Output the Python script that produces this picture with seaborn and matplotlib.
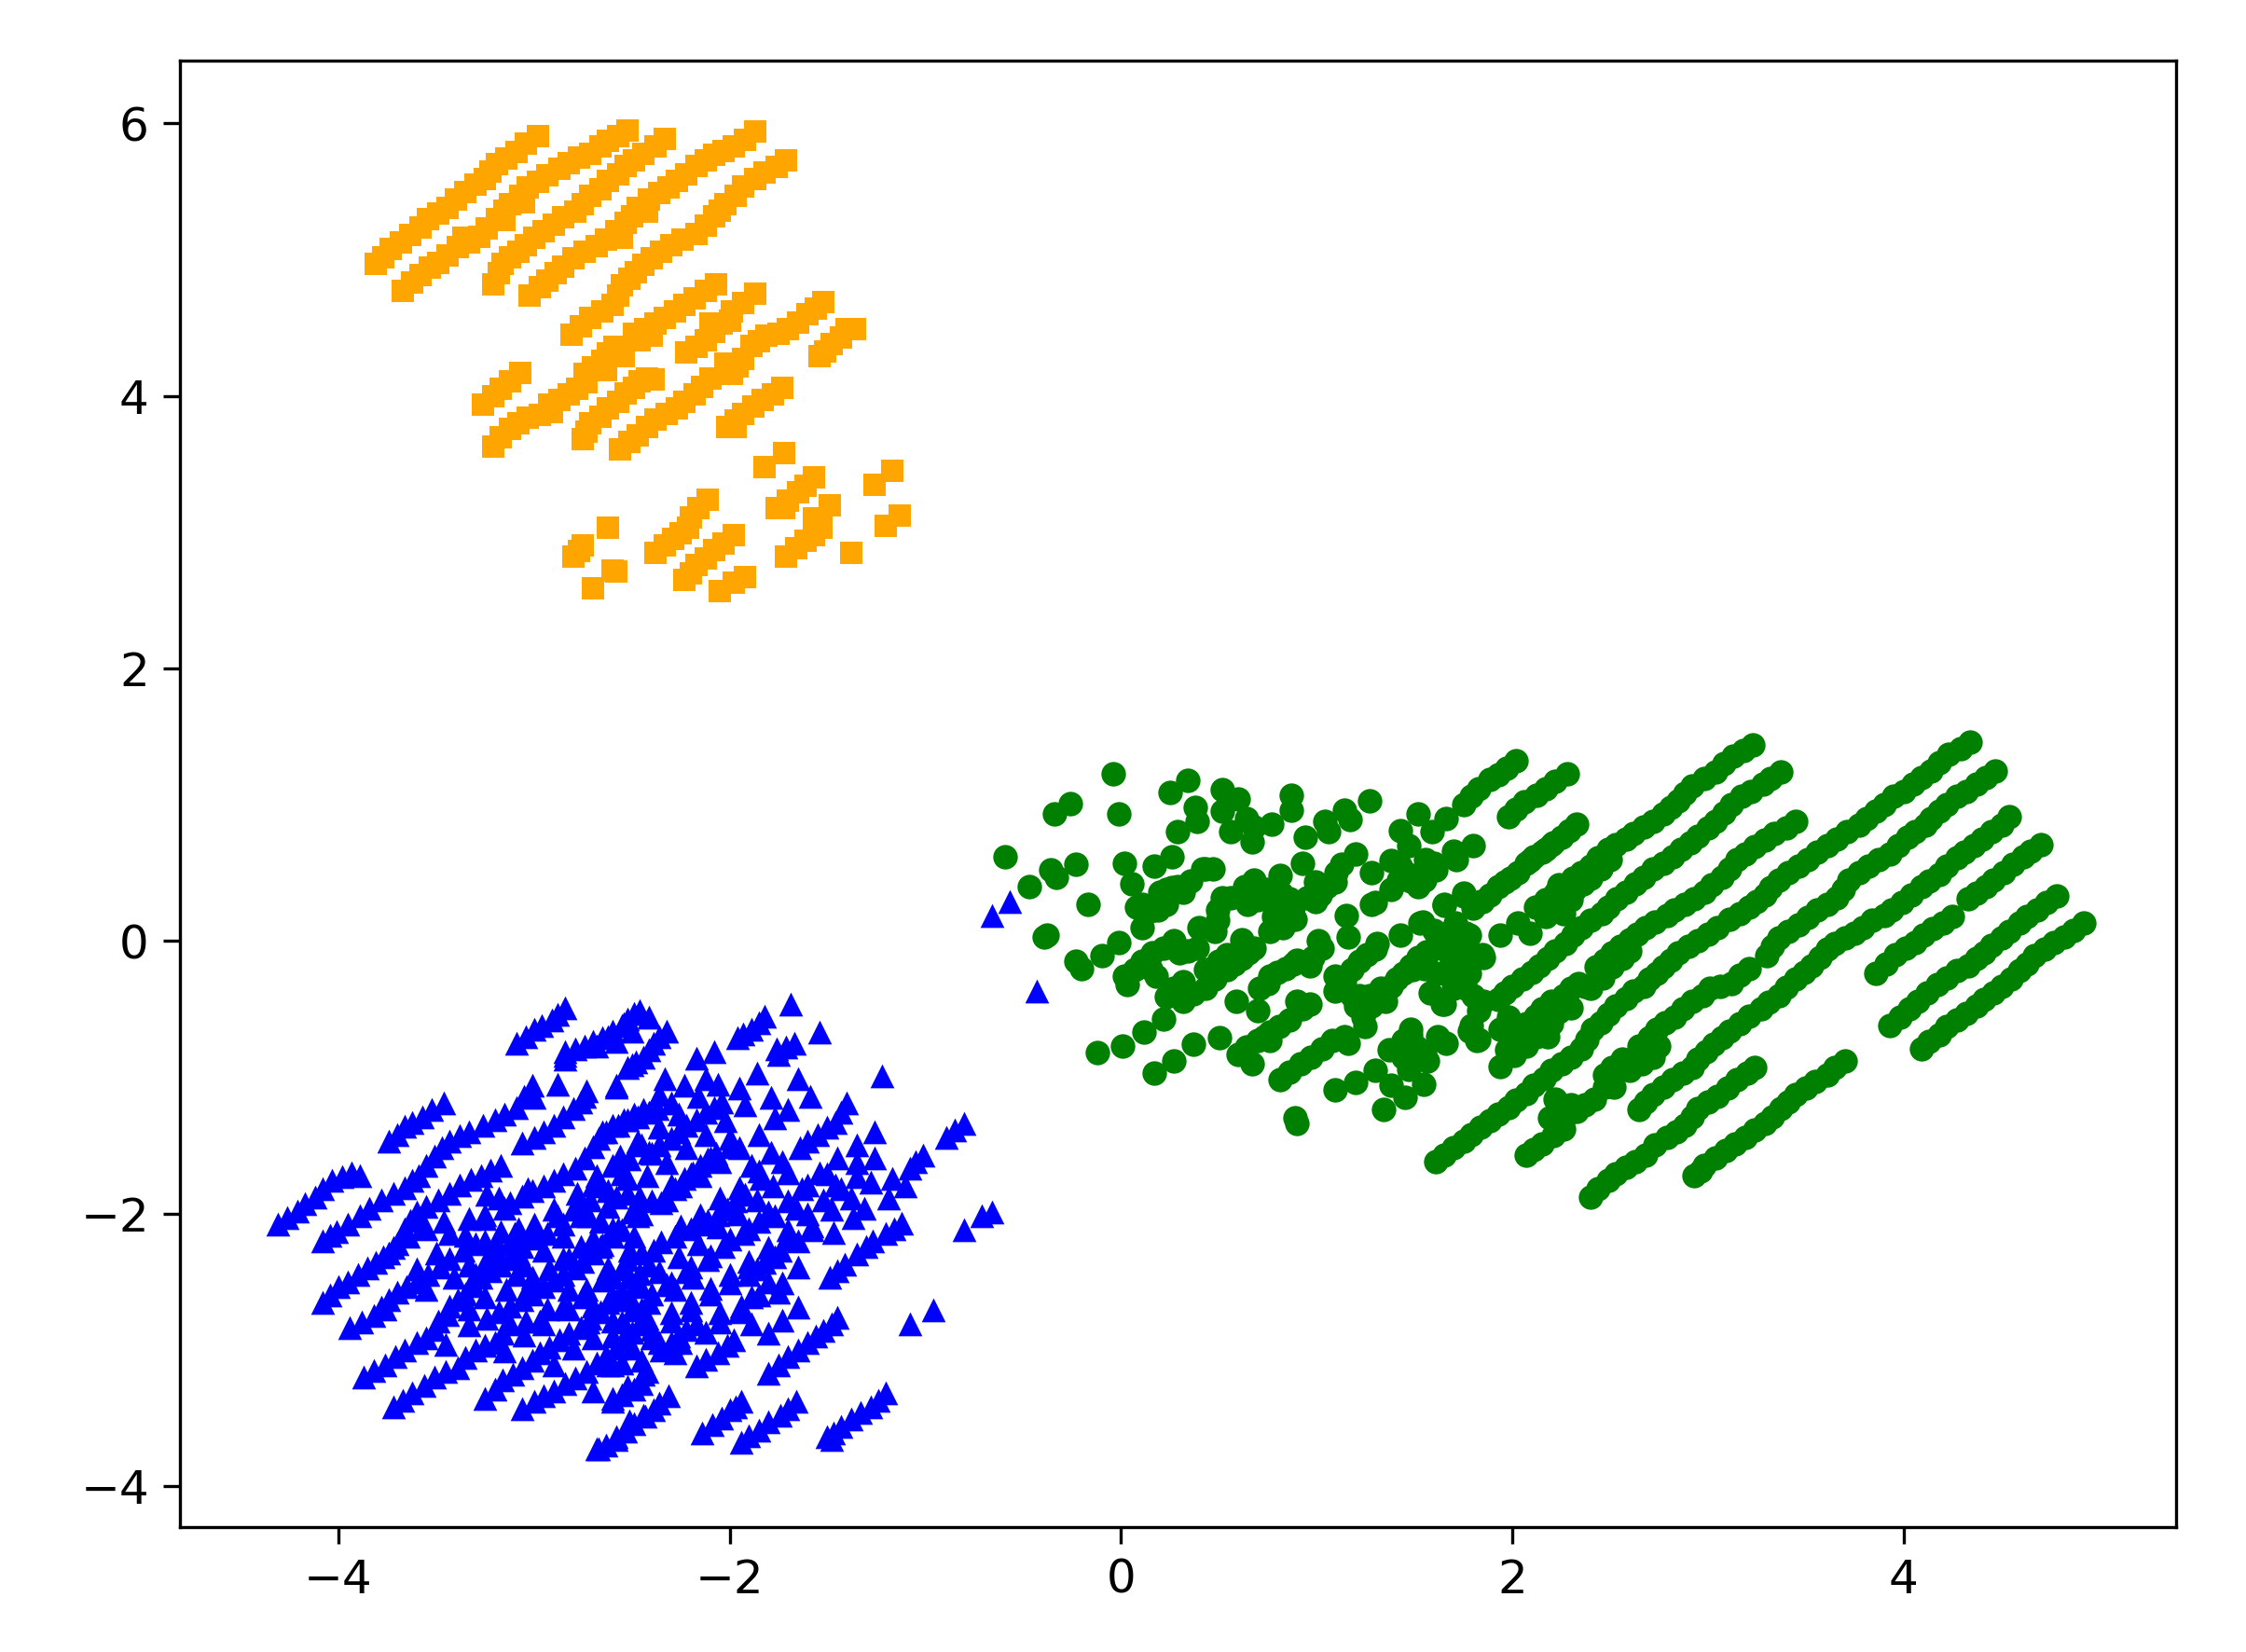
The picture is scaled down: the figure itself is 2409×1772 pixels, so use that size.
import numpy as np
import pandas as pd
import seaborn as sns
from matplotlib import pyplot as plt

# values, one row per visible strand
orange_points = [
    (-3.81, 4.97), (-3.73, 5.08), (-3.63, 5.18), (-3.54, 5.30), (-3.44, 5.38), (-3.35, 5.50), (-3.25, 5.59), (-3.19, 5.70), (-3.09, 5.79), (-2.98, 5.91),
    (-3.67, 4.77), (-3.58, 4.89), (-3.49, 4.98), (-3.39, 5.09), (-3.28, 5.17), (-3.19, 5.30), (-3.12, 5.41), (-3.03, 5.53), (-2.93, 5.62), (-2.82, 5.71), (-2.71, 5.78), (-2.62, 5.87), (-2.52, 5.95),
    (-3.21, 4.82), (-3.16, 4.97), (-3.08, 5.06), (-3.00, 5.16), (-2.90, 5.26), (-2.79, 5.35), (-2.71, 5.47), (-2.62, 5.58), (-2.53, 5.69), (-2.44, 5.78), (-2.33, 5.89),
    (-3.02, 4.74), (-2.93, 4.85), (-2.85, 4.95), (-2.74, 5.06), (-2.63, 5.15), (-2.53, 5.27), (-2.47, 5.38), (-2.36, 5.49), (-2.27, 5.58), (-2.17, 5.69), (-2.08, 5.77), (-1.98, 5.83), (-1.87, 5.94),
    (-2.81, 4.45), (-2.71, 4.57), (-2.60, 4.67), (-2.55, 4.81), (-2.48, 4.91), (-2.40, 5.01), (-2.30, 5.11), (-2.17, 5.19), (-2.08, 5.32), (-2.02, 5.41), (-1.93, 5.54), (-1.82, 5.64), (-1.71, 5.73),
    (-2.49, 4.46), (-2.38, 4.53), (-2.28, 4.62), (-2.18, 4.72), (-2.07, 4.82), (-2.46, 4.41),
    (-2.22, 4.32), (-2.12, 4.41), (-2.10, 4.53), (-2.04, 4.53), (-1.99, 4.62), (-1.87, 4.75),
    (-1.99, 4.16), (-2.02, 4.24), (-1.93, 4.27), (-1.89, 4.37), (-1.81, 4.44), (-1.70, 4.49), (-1.60, 4.60), (-1.52, 4.69),
    (-2.10, 4.13), (-2.18, 4.01), (-2.27, 3.91), (-2.38, 3.83), (-2.47, 3.71), (-2.56, 3.61),
    (-1.54, 4.29), (-1.48, 4.38), (-1.40, 4.49), (-1.36, 4.49),
    (-2.59, 4.36), (-2.65, 4.26), (-2.74, 4.16), (-2.73, 4.10), (-2.82, 4.01), (-2.92, 3.94), (-2.91, 3.88), (-3.03, 3.84), (-3.12, 3.76), (-3.21, 3.63), (-2.54, 4.29), (-2.63, 4.19),
    (-3.26, 3.94), (-3.17, 4.05), (-3.07, 4.17),
    (-2.75, 3.68), (-2.71, 3.80), (-2.62, 3.91), (-2.53, 4.02), (-2.46, 4.11), (-2.39, 4.12),
    (-1.73, 4.06), (-1.83, 3.97), (-1.93, 3.87), (-2.01, 3.77), (-1.97, 3.77),
    (-1.72, 3.58), (-1.82, 3.48),
    (-1.57, 3.40), (-1.65, 3.29), (-1.76, 3.18), (-1.72, 3.18),
    (-1.17, 3.45), (-1.26, 3.35),
    (-1.49, 3.20), (-1.57, 3.10), (-1.53, 3.03), (-1.61, 2.94), (-1.71, 2.82),
    (-1.38, 2.85), (-1.13, 3.12), (-1.20, 3.05),
    (-2.11, 3.24), (-2.20, 3.11), (-2.21, 3.03), (-2.29, 2.95), (-2.38, 2.85),
    (-1.98, 2.98), (-2.08, 2.87), (-2.17, 2.76), (-2.23, 2.65),
    (-1.92, 2.67), (-2.05, 2.57), (-1.98, 2.63),
    (-2.62, 3.03), (-2.75, 2.90), (-2.80, 2.82), (-2.58, 2.71), (-2.70, 2.59),
]

# more orange marks that sit inside the solid strands
orange_dense = [
    (-3.77, 5.02), (-3.68, 5.13), (-3.58, 5.24), (-3.49, 5.34), (-3.40, 5.44), (-3.30, 5.55), (-3.22, 5.65), (-3.14, 5.74), (-3.04, 5.85),
    (-3.62, 4.83), (-3.53, 4.94), (-3.44, 5.03), (-3.33, 5.13), (-3.24, 5.23), (-3.15, 5.36), (-3.07, 5.47), (-2.98, 5.57), (-2.87, 5.67), (-2.77, 5.75), (-2.66, 5.83), (-2.57, 5.91), (-3.36, 5.16), (-3.15, 5.29), (-3.05, 5.42),
    (-3.18, 4.90), (-3.12, 5.02), (-3.04, 5.11), (-2.95, 5.21), (-2.85, 5.31), (-2.75, 5.41), (-2.66, 5.52), (-2.57, 5.63), (-2.49, 5.73), (-2.38, 5.83),
    (-2.97, 4.80), (-2.89, 4.90), (-2.80, 5.01), (-2.68, 5.10), (-2.58, 5.21), (-2.50, 5.32), (-2.41, 5.44), (-2.31, 5.53), (-2.22, 5.63), (-2.12, 5.73), (-2.03, 5.80), (-1.92, 5.88), (-2.55, 5.16), (-2.42, 5.35),
    (-2.76, 4.51), (-2.65, 4.62), (-2.57, 4.74), (-2.51, 4.86), (-2.44, 4.96), (-2.35, 5.06), (-2.24, 5.15), (-2.12, 5.25), (-2.05, 5.36), (-1.97, 5.47), (-1.87, 5.59), (-1.76, 5.68),
    (-2.43, 4.49), (-2.33, 4.57), (-2.23, 4.67), (-2.12, 4.77), (-2.40, 4.44),
    (-2.17, 4.36), (-2.08, 4.47), (-2.00, 4.55), (-1.93, 4.68),
    (-1.96, 4.22), (-1.85, 4.40), (-1.75, 4.46), (-1.65, 4.54), (-1.56, 4.64), (-2.14, 4.07), (-2.23, 3.96), (-2.32, 3.87), (-2.42, 3.77), (-2.51, 3.66),
    (-1.51, 4.33), (-1.43, 4.43),
    (-2.62, 4.31), (-2.70, 4.21), (-2.78, 4.05), (-2.87, 3.97), (-2.97, 3.86), (-3.08, 3.80), (-3.17, 3.70),
    (-3.21, 4.00), (-3.12, 4.11),
    (-2.73, 3.74), (-2.66, 3.85), (-2.57, 3.96), (-2.49, 4.06), (-2.42, 4.13),
    (-1.78, 4.01), (-1.88, 3.92), (-1.97, 3.82),
    (-1.61, 3.34), (-1.70, 3.23), (-2.16, 3.18), (-2.25, 2.99), (-2.33, 2.90), (-2.03, 2.92), (-2.12, 2.81), (-2.20, 2.70), (-1.55, 3.07), (-1.57, 2.98), (-1.66, 2.88), (-2.77, 2.86), (-2.60, 2.72),
]

green_points = [
    (-0.04, 1.23), (-0.26, 1.01), (-0.34, 0.93), (-0.01, 0.93), (0.34, 1.18), (0.25, 1.09), (0.52, 1.11), (0.60, 1.04), (0.38, 0.98), (0.52, 0.95),
    (0.39, 0.88), (0.29, 0.80), (0.56, 0.80), (0.64, 0.90), (0.77, 0.86), (0.87, 1.07), (0.87, 0.96), (0.67, 0.73), (0.68, 0.84), (0.94, 0.76),
    (1.04, 0.88), (1.06, 0.80), (1.14, 0.96), (1.17, 0.89), (1.27, 1.03), (1.52, 0.93), (1.66, 0.90), (1.59, 0.80), (1.43, 0.81),
    (-0.59, 0.62), (-0.47, 0.40), (-0.36, 0.52), (-0.33, 0.47), (-0.23, 0.56), (-0.17, 0.27), (0.02, 0.57), (0.17, 0.55), (0.26, 0.62), (0.055, 0.42),
    (-0.38, 0.04), (-0.39, 0.03), (0.23, 0.38), (0.29, 0.40), (0.355, 0.44), (0.32, 0.36), (0.42, 0.53), (0.47, 0.53), (0.23, 0.34),
    (0.11, 0.27), (0.19, 0.23), (0.23, 0.27), (0.11, 0.10), (-0.01, -0.01), (-0.095, -0.11), (-0.23, -0.15), (-0.20, -0.20),
    (0.52, 0.32), (0.495, 0.23), (0.495, 0.15), (0.40, 0.10), (0.48, 0.07),
    (0.68, 0.45), (0.63, 0.40), (0.645, 0.27), (0.74, 0.38), (0.815, 0.48), (0.86, 0.31), (0.79, 0.26), (0.89, 0.16), (0.76, 0.07), (0.93, 0.57),
    (0.995, 0.29), (0.995, 0.43), (1.095, 0.43), (1.13, 0.56), (1.20, 0.64), (1.28, 0.50),
    (1.38, 0.59), (1.38, 0.38), (1.47, 0.70), (1.555, 0.60), (1.47, 0.49), (1.52, 0.40), (1.61, 0.52), (1.715, 0.60), (1.80, 0.70),
    (1.28, 0.27), (1.15, 0.19), (1.16, 0.03), (1.43, 0.04), (1.54, 0.14), (1.65, 0.26), (1.75, 0.33), (1.845, 0.29),
    (0.03, -0.32), (0.07, -0.21), (0.15, -0.20), (0.16, -0.09), (0.27, 0.00), (0.30, -0.09), (0.39, -0.05),
    (0.18, -0.26), (0.32, -0.30), (0.23, -0.41), (0.32, -0.44), (0.43, -0.35), (0.43, -0.21), (0.54, -0.21), (0.54, -0.10), (0.62, 0.01), (0.62, -0.13), (0.68, -0.05),
    (0.22, -0.57), (0.12, -0.67), (0.01, -0.77), (-0.12, -0.82), (0.37, -0.76), (0.27, -0.88), (0.17, -0.97), (0.505, -0.71), (0.59, -0.44), (0.70, -0.51),
    (0.71, -0.35), (0.76, -0.26), (0.84, -0.20), (0.90, -0.14), (0.965, -0.18), (1.03, -0.05), (1.01, 0.00),
    (0.90, -0.44), (0.965, -0.46), (0.86, -0.58), (0.76, -0.67), (0.70, -0.73), (0.60, -0.83), (0.67, -0.90), (0.76, -0.73),
    (0.815, -1.02), (0.92, -0.90), (1.03, -0.79), (1.14, -0.70), (1.16, -0.75),
    (1.095, -0.26), (1.095, -0.37), (1.18, -0.21), (1.255, -0.10), (1.31, -0.02), (1.18, -0.40), (1.27, -0.40), (1.35, -0.44), (1.235, -0.56), (1.245, -0.63), (1.38, -0.33), (1.44, -0.24), (1.52, -0.12), (1.61, -0.05),
    (1.69, 0.08), (1.78, 0.04), (1.69, -0.14), (1.845, -0.10), (1.61, -0.24), (1.75, -0.33), (1.64, -0.46), (1.83, -0.51), (1.82, -0.73), (1.79, -0.62),
    (0.89, -1.30), (0.90, -1.34), (1.34, -1.24), (1.45, -1.15), (1.38, -1.06), (1.545, -1.05), (1.47, -0.94), (1.565, -0.88), (1.66, -0.75), (1.48, -0.69), (1.51, -0.78), (1.37, -0.80), (1.44, -0.85),
    (1.095, -1.09), (1.20, -1.04), (1.30, -0.95),
    (1.75, 1.00), (1.83, 1.12), (1.885, 1.185), (1.93, 1.22), (2.02, 1.32),
    (1.98, 0.91), (2.06, 1.02), (2.125, 1.07), (2.17, 1.12), (2.28, 1.23),
    (2.33, 0.86), (2.25, 0.76), (2.20, 0.71), (2.17, 0.67), (2.11, 0.62), (2.07, 0.57), (2.03, 0.50), (1.99, 0.46), (1.93, 0.40), (1.885, 0.34), (1.80, 0.24), (1.75, 0.35), (1.65, 0.27),
    (3.23, 1.44), (3.13, 1.36), (3.04, 1.24), (2.92, 1.14), (2.85, 1.03), (2.77, 0.93), (2.67, 0.84), (2.58, 0.75), (2.49, 0.67), (2.40, 0.55), (2.31, 0.46), (2.22, 0.35), (2.12, 0.25),
    (2.40, 0.46), (2.28, 0.32), (2.17, 0.18), (2.35, 0.50), (2.24, 0.41), (2.32, 0.38), (2.22, 0.25),
    (3.37, 1.24), (3.28, 1.15), (3.17, 1.06), (3.08, 0.94), (3.00, 0.83), (2.91, 0.72), (2.82, 0.62), (2.72, 0.53), (2.63, 0.42), (2.535, 0.31), (2.455, 0.20), (2.35, 0.10), (2.27, -0.02), (2.18, -0.13), (2.10, -0.23), (2.00, -0.33), (1.93, -0.43),
    (3.45, 0.88), (3.34, 0.79), (3.24, 0.69), (3.15, 0.60), (3.07, 0.47),
    (2.98, 0.36), (2.88, 0.27), (2.79, 0.19), (2.68, 0.10), (2.60, 0.01), (2.51, -0.09), (2.43, -0.19), (2.60, -0.07), (2.51, -0.19), (2.40, -0.35), (2.34, -0.31), (2.26, -0.40), (2.30, -0.49), (2.20, -0.44), (2.15, -0.50), (2.20, -0.61), (2.07, -0.61), (2.125, -0.70),
    (1.98, -0.56), (1.99, -0.75), (2.01, -0.84), (1.94, -0.92), (2.07, -0.77), (1.94, -0.65), (1.83, -0.72), (1.78, -0.66),
    (1.53, 0.13), (1.65, 0.02), (1.76, 0.06), (1.555, -0.12), (1.69, -0.14), (1.85, -0.12), (1.78, -0.24), (1.65, -0.24), (1.49, -0.21), (1.76, -0.35), (1.65, -0.46), (1.85, -0.44), (1.71, 0.13), (1.94, 0.04), (2.03, 0.13), (2.09, 0.06),
    (4.34, 1.46), (4.23, 1.37), (4.14, 1.25), (4.05, 1.15), (3.95, 1.06), (3.86, 0.95), (3.77, 0.85), (3.66, 0.75), (3.56, 0.65), (3.46, 0.55), (3.36, 0.45), (3.29, 0.34), (3.21, 0.25), (3.11, 0.16), (3.00, 0.05), (2.90, -0.04), (2.81, -0.14), (2.74, -0.24), (2.67, -0.33), (2.58, -0.42), (2.49, -0.54), (2.41, -0.65), (2.35, -0.79), (2.25, -0.90), (2.16, -1.01), (2.07, -1.12), (1.98, -1.22), (1.885, -1.32), (1.79, -1.42), (1.70, -1.52), (1.61, -1.62),
    (4.47, 1.25), (4.37, 1.15), (4.27, 1.06), (4.18, 0.95), (4.11, 0.85), (4.02, 0.76), (3.93, 0.64), (3.82, 0.55), (3.72, 0.45), (3.66, 0.32), (3.56, 0.23), (3.46, 0.12), (3.36, 0.02), (3.30, -0.11),
    (4.54, 0.91), (4.45, 0.80), (4.36, 0.70), (4.27, 0.61), (4.18, 0.49), (4.09, 0.40), (3.99, 0.28), (3.90, 0.19), (3.79, 0.10), (3.70, 0.02), (3.61, -0.06), (3.53, -0.18), (3.45, -0.28), (3.36, -0.40), (3.27, -0.50), (3.16, -0.61), (3.07, -0.71), (2.99, -0.81), (2.92, -0.93), (2.82, -1.02), (2.72, -1.13), (2.65, -1.24),
    (3.21, -0.20), (3.12, -0.31), (3.01, -0.35), (2.92, -0.44), (2.83, -0.56), (2.74, -0.65), (2.65, -0.77), (2.75, -0.77), (2.72, -0.85), (2.60, -0.95), (2.56, -0.87), (2.47, -0.98), (2.52, -1.07), (2.42, -1.16), (2.33, -1.25), (2.22, -1.16), (2.19, -1.30), (2.26, -1.38), (2.15, -1.49), (2.07, -1.57),
    (3.24, -0.93), (3.15, -1.02), (3.05, -1.14), (2.95, -1.23), (2.88, -1.35), (2.79, -1.44), (2.68, -1.57), (2.58, -1.66), (2.49, -1.76), (2.40, -1.88),
    (3.70, -0.88), (3.61, -0.98), (3.50, -1.08), (3.41, -1.18), (3.33, -1.29), (3.24, -1.39), (3.14, -1.49), (3.04, -1.59), (2.93, -1.72),
    (4.70, 0.71), (4.61, 0.62), (4.51, 0.50), (4.42, 0.40), (4.33, 0.31),
    (4.25, 0.18), (4.15, 0.09), (4.06, -0.01), (3.96, -0.10), (3.86, -0.24),
    (4.78, 0.33), (4.68, 0.23), (4.59, 0.13), (4.50, 0.02), (4.41, -0.09), (4.33, -0.18), (4.22, -0.27), (4.12, -0.38), (4.03, -0.50), (3.93, -0.62),
    (4.92, 0.13), (4.82, 0.03), (4.72, -0.06), (4.63, -0.17), (4.55, -0.28), (4.46, -0.38), (4.37, -0.48), (4.27, -0.58), (4.18, -0.69), (4.09, -0.79),
]

# more green marks that sit inside the solid strands
green_dense = [
    (1.79, 1.06), (1.97, 1.27), (2.02, 0.97), (2.22, 1.17),
    (2.29, 0.81), (2.21, 0.72), (2.15, 0.65), (2.09, 0.59), (1.96, 0.43), (1.84, 0.29),
    (3.18, 1.40), (3.08, 1.30), (2.98, 1.19), (2.88, 1.08), (2.81, 0.98), (2.72, 0.88), (2.62, 0.79), (2.53, 0.71), (2.44, 0.61), (2.36, 0.50), (2.27, 0.40), (2.17, 0.30), (2.45, 0.53), (2.36, 0.42), (2.27, 0.29), (2.50, 0.60), (2.30, 0.30), (2.18, 0.23), (2.26, 0.20),
    (3.32, 1.19), (3.22, 1.10), (3.12, 1.00), (3.04, 0.88), (2.95, 0.77), (2.86, 0.67), (2.77, 0.57), (2.67, 0.47), (2.58, 0.36), (2.49, 0.25), (2.40, 0.15), (2.31, 0.04), (2.22, -0.07), (2.14, -0.18), (2.05, -0.28), (1.96, -0.38),
    (3.40, 0.83), (3.29, 0.74), (3.19, 0.64), (3.11, 0.53), (3.02, 0.41), (2.93, 0.31), (2.83, 0.23), (2.73, 0.14), (2.64, 0.05), (2.55, -0.04), (2.47, -0.14), (2.56, -0.13), (2.46, -0.27), (2.37, -0.33), (2.30, -0.35), (2.24, -0.52), (2.12, -0.55), (2.18, -0.70), (2.05, -0.70), (2.00, -0.66), (1.97, -0.80), (2.03, -0.68), (2.12, -0.62), (2.16, -0.58),
    (4.29, 1.41), (4.18, 1.31), (4.09, 1.20), (4.00, 1.10), (3.90, 1.00), (3.81, 0.90), (3.71, 0.80), (3.61, 0.70), (3.51, 0.60), (3.41, 0.50), (3.32, 0.39), (3.25, 0.29), (3.16, 0.20), (3.05, 0.10), (2.95, 0.00), (2.85, -0.09), (2.77, -0.19), (2.70, -0.28), (2.62, -0.37), (2.53, -0.48), (2.45, -0.60), (2.38, -0.72), (2.30, -0.85), (2.20, -0.95), (2.11, -1.06), (2.02, -1.17), (1.93, -1.27), (1.84, -1.37), (1.75, -1.47), (1.65, -1.57),
    (4.42, 1.20), (4.32, 1.10), (4.22, 1.00), (4.14, 0.90), (4.06, 0.80), (3.97, 0.70), (3.87, 0.60), (3.77, 0.50), (3.69, 0.38), (3.61, 0.27), (3.51, 0.17), (3.41, 0.07), (3.33, -0.04),
    (4.50, 0.85), (4.40, 0.75), (4.31, 0.65), (4.22, 0.55), (4.13, 0.44), (4.04, 0.34), (3.94, 0.23), (3.84, 0.15), (3.75, 0.06), (3.65, -0.02), (3.57, -0.12), (3.49, -0.23), (3.40, -0.34), (3.31, -0.45), (3.21, -0.55), (3.11, -0.66), (3.03, -0.76), (2.95, -0.87), (2.87, -0.97), (2.77, -1.07), (2.68, -1.18),
    (3.16, -0.25), (3.06, -0.33), (2.97, -0.40), (2.87, -0.50), (2.78, -0.60), (2.70, -0.71), (2.69, -0.81), (2.66, -0.90), (2.51, -0.93), (2.47, -1.07), (2.37, -1.20), (2.28, -1.27), (2.21, -1.43), (2.11, -1.53), (2.30, -1.20), (2.24, -1.24),
    (3.20, -0.97), (3.10, -1.08), (3.00, -1.18), (2.92, -1.29), (2.84, -1.40), (2.73, -1.50), (2.63, -1.62), (2.53, -1.71), (2.44, -1.82),
    (3.65, -0.93), (3.55, -1.03), (3.45, -1.13), (3.37, -1.23), (3.29, -1.34), (3.19, -1.44), (3.09, -1.54), (2.98, -1.65), (2.96, -1.69),
    (4.65, 0.66), (4.56, 0.56), (4.46, 0.45), (4.37, 0.35), (4.20, 0.13), (4.10, 0.04), (4.01, -0.05), (3.91, -0.17),
    (4.73, 0.28), (4.63, 0.18), (4.54, 0.07), (4.45, -0.03), (4.37, -0.13), (4.27, -0.22), (4.17, -0.32), (4.07, -0.44), (3.98, -0.56),
    (4.87, 0.08), (4.77, -0.01), (4.67, -0.11), (4.59, -0.22), (4.50, -0.33), (4.41, -0.43), (4.32, -0.53), (4.22, -0.63), (4.13, -0.74),
    (0.26, 0.39), (0.20, 0.36), (0.43, 0.53), (0.08, 0.25), (0.15, 0.22), (0.02, -0.26), (0.11, -0.15), (0.22, -0.05), (0.34, -0.07), (0.27, -0.35), (0.37, -0.39), (0.48, -0.28), (0.58, -0.17), (0.65, -0.09), (0.50, -0.15),
    (0.75, -0.31), (0.80, -0.23), (0.88, -0.17), (0.98, -0.12), (0.93, -0.50), (0.81, -0.63), (0.73, -0.70), (0.64, -0.78), (0.86, -0.96), (0.97, -0.85), (1.08, -0.73),
    (1.14, -0.30), (1.22, -0.15), (1.30, -0.06), (1.22, -0.40), (1.32, -0.42), (1.28, -0.48), (1.20, -0.48), (1.33, -0.35), (1.41, -0.28), (1.48, -0.18), (1.56, -0.08), (1.72, -0.05), (1.78, -0.12), (1.62, 0.01), (1.60, 0.08), (1.72, -0.20), (1.55, -0.20), (1.70, -0.35), (1.58, -0.38), (1.80, -0.40),
    (1.48, -0.65), (1.44, -0.73), (1.55, -0.82), (1.62, -0.70), (0.56, 0.32), (0.70, 0.30), (0.62, 0.34), (0.82, 0.35), (0.88, 0.25), (0.78, 0.18), (0.83, 0.10), (1.05, 0.40), (1.02, 0.34), (0.95, 0.32), (1.10, 0.50), (1.43, 0.55), (1.48, 0.44), (1.60, 0.57), (1.42, 0.45), (1.55, 0.45), (1.70, 0.66), (1.30, 0.28),
]

blue_points = [
    (-4.31, -2.08), (-4.21, -1.98), (-4.12, -1.88), (-4.03, -1.76), (-3.93, -1.70), (-3.89, -1.72),
    (-3.74, -1.47), (-3.66, -1.36), (-3.57, -1.29), (-3.46, -1.19),
    (-4.08, -2.20), (-4.01, -2.13), (-3.89, -2.02), (-3.78, -1.90), (-3.66, -1.81), (-3.59, -1.72), (-3.51, -1.58), (-3.43, -1.47), (-3.33, -1.40), (-3.20, -1.31), (-3.09, -1.22), (-3.01, -1.06), (-3.00, -1.15),
    (-3.09, -0.75), (-3.00, -0.65), (-2.91, -0.58), (-2.84, -0.49),
    (-2.84, -0.87), (-2.84, -0.81), (-2.74, -0.77), (-2.65, -0.71), (-2.55, -0.62), (-2.49, -0.53), (-2.88, -1.05), (-2.58, -1.06), (-2.50, -0.91),
    (-3.06, -1.48), (-2.95, -1.40), (-2.85, -1.29), (-2.76, -1.18), (-2.73, -1.10),
    (-4.08, -2.65), (-4.00, -2.54), (-3.90, -2.45), (-3.81, -2.36), (-3.74, -2.29),
    (-3.94, -2.84), (-3.82, -2.75), (-3.74, -2.63), (-3.65, -2.54), (-3.54, -2.45), (-3.43, -2.33), (-3.30, -2.22), (-3.19, -2.22), (-3.06, -2.24),
    (-3.66, -2.11), (-3.60, -1.99), (-3.49, -1.90), (-3.38, -1.79), (-3.27, -1.72), (-3.17, -1.65),
    (-3.24, -1.86), (-3.12, -1.92), (-3.01, -1.83), (-2.90, -1.76), (-2.79, -1.67), (-2.70, -1.51), (-2.65, -1.40), (-2.54, -1.31), (-2.44, -1.24),
    (-3.87, -3.20), (-3.76, -3.11), (-3.66, -3.00), (-3.55, -2.91),
    (-3.72, -3.42), (-3.62, -3.32), (-3.51, -3.20), (-3.39, -3.13), (-3.30, -3.00), (-3.20, -2.95), (-3.12, -2.81), (-3.24, -2.77), (-3.12, -2.68), (-3.01, -2.59), (-2.90, -2.49), (-2.79, -2.40), (-2.70, -2.29), (-2.60, -2.17),
    (-3.25, -3.36), (-3.16, -3.22), (-3.06, -3.13), (-2.97, -3.02), (-2.87, -2.93), (-2.76, -2.84),
    (-3.06, -3.43), (-2.95, -3.34), (-2.84, -3.25), (-2.73, -3.16), (-2.63, -3.04), (-2.54, -2.93), (-2.46, -2.81),
    (-3.49, -2.79), (-3.43, -2.68), (-3.35, -2.59), (-3.27, -2.47), (-3.17, -2.38), (-3.08, -2.29),
    (-2.70, -2.68), (-2.60, -2.61), (-2.51, -2.47), (-2.85, -2.33), (-2.76, -2.24),
    (-2.80, -1.97), (-2.71, -1.90), (-2.62, -1.83), (-2.52, -1.74), (-2.93, -2.15), (-2.85, -2.08), (-2.76, -2.02),
    (-2.66, -2.24), (-2.57, -2.11), (-2.47, -2.02), (-2.60, -3.36), (-2.52, -3.27), (-2.44, -3.18),
    (-2.68, -3.73), (-2.58, -3.64), (-2.51, -3.52), (-2.44, -3.48),
    (-3.43, -2.15), (-3.17, -2.13), (-3.08, -2.11), (-3.01, -2.18), (-2.82, -2.56), (-2.73, -2.56), (-2.93, -2.70), (-2.82, -2.70), (-3.04, -2.79), (-2.97, -2.79), (-2.71, -2.77), (-2.62, -2.65), (-2.51, -2.61), (-2.62, -2.40), (-2.51, -2.27), (-2.66, -2.06),
    (-3.33, -2.38), (-3.41, -2.47), (-3.24, -2.34), (-3.09, -2.45), (-3.01, -2.47), (-3.25, -2.61), (-3.14, -2.56), (-3.33, -2.70), (-3.55, -2.56), (-3.76, -2.70),
    (-2.60, -1.65), (-2.51, -1.60), (-2.47, -1.47), (-2.70, -1.79), (-2.58, -1.88), (-2.46, -1.88), (-2.49, -2.17),
    (-3.46, -2.06), (-3.55, -2.11), (-3.25, -2.01), (-3.33, -2.04), (-3.70, -2.22),
    (-2.46, -0.51), (-2.54, -0.61), (-2.62, -0.70), (-2.68, -0.77), (-2.32, -0.66), (-2.39, -0.75), (-2.44, -0.85), (-2.52, -0.93), (-2.58, -1.07),
    (-2.17, -0.86), (-2.08, -0.81), (-2.12, -1.01),
    (-1.69, -0.46), (-1.82, -0.55), (-1.89, -0.65), (-1.96, -0.71), (-1.54, -0.67), (-1.67, -0.75), (-1.75, -0.83),
    (-1.86, -0.97), (-1.95, -1.08), (-1.65, -1.01), (-1.59, -1.14), (-1.79, -1.15), (-1.70, -1.24), (-1.77, -1.30), (-1.22, -0.99),
    (-2.33, -1.01), (-2.23, -1.06), (-2.36, -1.13), (-2.30, -1.19), (-2.41, -1.26), (-2.52, -1.31), (-2.63, -1.40),
    (-2.04, -1.18), (-2.12, -1.26), (-2.22, -1.35), (-2.30, -1.45), (-2.41, -1.55),
    (-2.00, -1.45), (-2.07, -1.56), (-2.15, -1.65), (-2.23, -1.74), (-2.32, -1.90),
    (-1.89, -1.65), (-1.84, -1.74), (-1.92, -1.86), (-2.01, -1.97), (-2.11, -2.05), (-2.20, -2.11), (-2.28, -2.17), (-1.79, -1.55), (-1.73, -1.62),
    (-1.40, -1.19), (-1.46, -1.33), (-1.55, -1.42), (-1.64, -1.52),
    (-1.26, -1.40), (-1.35, -1.50), (-1.26, -1.59), (-1.35, -1.63), (-1.45, -1.59), (-1.54, -1.70), (-1.46, -1.79), (-1.63, -1.82), (-1.66, -1.96),
    (-1.77, -2.02), (-1.85, -2.06), (-1.93, -2.15), (-2.03, -2.24),
    (-0.80, -1.34), (-0.89, -1.44), (-1.01, -1.57), (-1.08, -1.67), (-1.17, -1.74), (-1.10, -1.80), (-1.19, -1.89),
    (-1.31, -1.96), (-1.37, -2.03), (-1.12, -2.07), (-1.20, -2.15), (-1.30, -2.24), (-1.41, -2.37), (-1.49, -2.47),
    (-1.58, -2.12), (-1.47, -2.14), (-1.65, -2.20), (-1.74, -2.27), (-1.82, -2.36), (-1.90, -2.45), (-1.73, -2.51), (-1.80, -2.50), (-1.65, -2.39),
    (-1.89, -2.61), (-0.66, -1.99), (-0.71, -2.02), (-0.80, -2.12),
    (-1.65, -2.69), (-1.73, -2.78), (-1.89, -2.81), (-1.80, -2.88), (-2.05, -2.73), (-1.94, -2.68),
    (-1.45, -2.76), (-1.52, -2.86), (-1.60, -2.95), (-1.70, -3.05), (-1.80, -3.17), (-0.96, -2.71), (-1.08, -2.81),
    (-2.17, -2.81), (-2.26, -2.90), (-1.98, -2.93), (-2.06, -3.02), (-2.17, -3.12), (-2.28, -3.02), (-2.36, -2.95), (-2.42, -2.77), (-2.41, -2.65),
    (-2.28, -2.56), (-2.19, -2.47), (-2.11, -2.34), (-2.41, -2.38), (-2.49, -2.54), (-2.58, -2.63), (-2.39, -2.27), (-2.52, -2.34), (-2.60, -2.47),
    (-2.60, -2.90), (-2.52, -2.86), (-2.62, -3.11),
    (-2.42, -3.16), (-2.49, -3.29), (-2.60, -3.38), (-2.31, -3.34), (-2.39, -3.44), (-2.49, -3.54), (-2.58, -3.66),
    (-1.94, -3.38), (-2.04, -3.50), (-2.14, -3.61), (-1.66, -3.38), (-1.74, -3.48), (-1.85, -3.59), (-1.94, -3.68),
    (-1.20, -3.32), (-1.28, -3.42), (-1.38, -3.51), (-1.47, -3.61), (-1.50, -3.64), (-2.67, -3.73),
    (-0.57, 0.29), (-0.66, 0.19), (-0.43, -0.37),
]

# more blue marks that sit inside the solid strands
blue_dense = [
    (-4.26, -2.03), (-4.17, -1.93), (-4.08, -1.82), (-3.98, -1.73), (-3.70, -1.42), (-3.62, -1.33), (-3.52, -1.24),
    (-4.04, -2.16), (-3.95, -2.08), (-3.84, -1.96), (-3.72, -1.85), (-3.62, -1.76), (-3.55, -1.65), (-3.47, -1.52), (-3.38, -1.43), (-3.26, -1.35), (-3.15, -1.27), (-3.05, -1.14),
    (-3.04, -0.70), (-2.96, -0.62), (-2.88, -0.54), (-2.84, -0.84), (-2.79, -0.79), (-2.70, -0.74), (-2.60, -0.66), (-2.52, -0.57),
    (-3.00, -1.44), (-2.90, -1.35), (-2.80, -1.23), (-2.74, -1.14),
    (-3.63, -2.05), (-3.55, -1.95), (-3.43, -1.85), (-3.32, -1.75), (-3.22, -1.68),
    (-3.18, -1.89), (-3.06, -1.87), (-2.95, -1.80), (-2.85, -1.71), (-2.74, -1.59), (-2.67, -1.45), (-2.60, -1.35), (-2.49, -1.27),
    (-3.88, -2.80), (-3.78, -2.69), (-3.70, -2.58), (-3.60, -2.50), (-3.48, -2.39), (-3.36, -2.27), (-3.25, -2.20), (-3.12, -2.22),
    (-4.04, -2.60), (-3.95, -2.50), (-3.85, -2.40), (-3.77, -2.32), (-3.72, -2.25), (-3.64, -2.17), (-3.57, -2.10),
    (-3.82, -3.15), (-3.71, -3.05), (-3.60, -2.95), (-3.51, -2.85), (-3.44, -2.74), (-3.39, -2.63), (-3.31, -2.53), (-3.22, -2.42), (-3.12, -2.33),
    (-3.67, -3.37), (-3.56, -3.26), (-3.45, -3.16), (-3.35, -3.06), (-3.25, -2.97), (-3.16, -2.88), (-3.18, -2.72), (-3.06, -2.63), (-2.95, -2.54), (-2.85, -2.45), (-2.75, -2.35), (-2.65, -2.23), (-2.55, -2.12), (-2.45, -2.00), (-2.35, -1.92), (-2.25, -1.80), (-2.15, -1.72), (-2.05, -1.62), (-1.95, -1.52), (-1.85, -1.42),
    (-3.20, -3.29), (-3.11, -3.18), (-3.01, -3.08), (-2.92, -2.98), (-2.82, -2.88), (-2.72, -2.80), (-2.66, -2.72), (-2.56, -2.63), (-2.46, -2.52), (-2.36, -2.43), (-2.26, -2.32), (-2.16, -2.22), (-2.06, -2.10), (-1.96, -2.00), (-1.86, -1.90), (-1.78, -1.80), (-1.70, -1.70),
    (-3.00, -3.38), (-2.90, -3.30), (-2.79, -3.21), (-2.68, -3.10), (-2.58, -2.99), (-2.50, -2.87), (-2.40, -2.85), (-2.30, -2.73), (-2.20, -2.65), (-2.10, -2.55), (-2.00, -2.45), (-1.90, -2.35), (-1.80, -2.25), (-1.70, -2.12), (-1.60, -2.00), (-1.52, -1.90), (-1.43, -1.82), (-1.35, -1.73),
    (-3.20, -2.25), (-3.10, -2.15), (-3.00, -2.08), (-2.90, -1.97), (-2.78, -1.85), (-2.68, -1.72), (-2.56, -1.58), (-2.45, -1.50), (-2.36, -1.37), (-2.26, -1.27), (-2.16, -1.14), (-2.06, -1.05),
    (-3.05, -2.38), (-2.95, -2.27), (-2.85, -2.17), (-2.72, -2.02), (-2.62, -1.95), (-2.52, -1.85), (-2.42, -1.72), (-2.32, -1.63), (-2.22, -1.52), (-2.12, -1.42), (-2.02, -1.32), (-1.92, -1.20),
    (-2.70, -3.30), (-2.55, -3.10), (-2.45, -3.08), (-2.35, -3.00), (-2.25, -2.95), (-2.12, -2.87), (-2.05, -2.80), (-1.95, -2.72), (-1.85, -2.60), (-1.75, -2.58),
    (-2.45, -3.25), (-2.55, -3.33), (-2.36, -3.39), (-2.43, -3.49), (-2.53, -3.60), (-2.63, -3.70),
    (-1.97, -3.42), (-2.00, -3.44), (-2.09, -3.55), (-1.70, -3.43), (-1.80, -3.53), (-1.90, -3.63), (-1.24, -3.37), (-1.33, -3.46), (-1.43, -3.56), (-1.48, -3.66),
    (-1.48, -2.81), (-1.56, -2.90), (-1.65, -3.00), (-1.75, -3.11), (-2.01, -2.97), (-2.12, -3.07), (-1.76, -0.79), (-1.71, -0.78), (-1.85, -0.60), (-1.93, -0.68), (-2.41, -0.56), (-2.50, -0.66), (-2.58, -0.74), (-2.36, -0.70), (-2.41, -0.80), (-2.48, -0.89),
    (-1.50, -1.37), (-1.60, -1.47), (-1.43, -1.26), (-0.85, -1.39), (-1.05, -1.62), (-1.27, -2.20), (-1.35, -2.30), (-1.16, -2.11), (-1.45, -2.42), (-2.37, -1.23), (-2.47, -1.29), (-2.57, -1.35), (-2.08, -1.22), (-2.17, -1.31), (-2.26, -1.40), (-2.36, -1.50),
    (-2.11, -1.60), (-2.19, -1.70), (-2.28, -1.82), (-1.97, -1.91), (-2.06, -2.01), (-2.15, -2.08), (-1.77, -2.32), (-1.86, -2.41), (-1.69, -2.17), (-2.32, -2.52), (-2.22, -2.43), (-2.46, -2.44), (-2.55, -2.58), (-2.45, -2.70), (-2.55, -2.80), (-2.22, -2.85), (-2.30, -2.95),
]

# marks of the nearly solid middle of the blue group
blue_core = [
    (-3.30, -2.45), (-3.21, -2.34), (-2.98, -2.14), (-2.88, -2.02), (-2.78, -1.94), (-2.66, -1.80), (-2.55, -1.71), (-2.40, -1.56),
    (-3.45, -2.96), (-3.33, -2.82), (-3.02, -2.53), (-2.92, -2.41), (-2.82, -2.33), (-2.70, -2.19), (-2.60, -2.11), (-2.50, -1.99), (-2.40, -1.91), (-2.30, -1.79), (-2.20, -1.71), (-2.10, -1.59), (-2.00, -1.51),
    (-3.15, -3.01), (-3.05, -2.89), (-2.95, -2.81), (-2.85, -2.69), (-2.75, -2.61), (-2.65, -2.49), (-2.55, -2.41), (-2.45, -2.29), (-2.35, -2.21), (-2.25, -2.09), (-2.15, -2.01), (-2.05, -1.89), (-1.95, -1.81), (-1.85, -1.69),
    (-2.90, -3.11), (-2.80, -2.99), (-2.70, -2.91), (-2.60, -2.79), (-2.50, -2.71), (-2.40, -2.59), (-2.30, -2.51), (-2.20, -2.39), (-2.10, -2.31), (-2.00, -2.19), (-1.90, -2.11), (-1.80, -1.99), (-1.70, -1.91), (-1.60, -1.79), (-1.50, -1.71),
    (-2.60, -3.11), (-2.50, -2.99), (-2.40, -2.91), (-2.30, -2.79), (-2.20, -2.71), (-2.10, -2.59), (-2.00, -2.51), (-1.90, -2.39), (-1.80, -2.31), (-1.70, -2.19), (-1.58, -2.09), (-1.48, -1.97), (-1.38, -1.89), (-1.28, -1.77),
    (-3.60, -2.41), (-3.50, -2.29), (-3.35, -2.16), (-3.25, -2.04), (-3.15, -1.96), (-3.03, -1.82),
]

x_ticks = [-4, -2, 0, 2, 4]
y_ticks = [-4, -2, 0, 2, 4, 6]

frames = []
for name, points in [('orange', orange_points + orange_dense),
                     ('green', green_points + green_dense),
                     ('blue', blue_points + blue_dense + blue_core)]:
    part = pd.DataFrame(points, columns=['x', 'y'])
    part['cluster'] = name
    frames.append(part)
df = pd.concat(frames, ignore_index=True)

sns.set_theme(style='ticks', rc={
    'axes.edgecolor': 'black', 'xtick.color': 'black', 'ytick.color': 'black',
    'text.color': 'black', 'axes.linewidth': 0.8,
    'xtick.major.size': 4.4, 'ytick.major.size': 4.4,
    'xtick.major.width': 0.8, 'ytick.major.width': 0.8,
    'xtick.labelsize': 12, 'ytick.labelsize': 12,
})
plt.rcParams['font.family'] = ['DejaVu Sans']

fig = plt.figure(figsize=(2409 / 300, 1772 / 300), dpi=300)
ax = fig.add_axes([0.08, 0.0758, 0.8887, 0.8878])

sizes = {'orange': 33, 'green': 40, 'blue': 38}
markers = {'orange': 's', 'green': 'o', 'blue': '^'}
for name in ['blue', 'green', 'orange']:
    sns.scatterplot(data=df[df['cluster'] == name], x='x', y='y', color=name,
                    marker=markers[name], s=sizes[name], linewidth=0, ax=ax, legend=False)

ax.set_xlim(-4.81, 5.39)
ax.set_ylim(-4.30, 6.465)
ax.set_xticks(x_ticks)
ax.set_yticks(y_ticks)
ax.set_xlabel('')
ax.set_ylabel('')
fig.savefig('out.png', dpi=300)
